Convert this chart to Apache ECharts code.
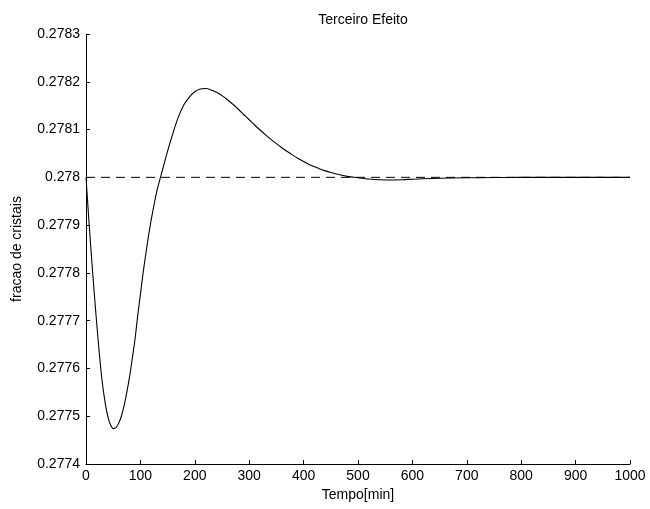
<!DOCTYPE html>
<html>
<head>
<meta charset="utf-8">
<script src="https://cdn.jsdelivr.net/npm/echarts@6/dist/echarts.min.js"></script>
<style>html,body{margin:0;padding:0;background:#fff}#c{width:650px;height:509px}</style>
</head>
<body>
<div id="c"></div>
<script>
var titleText = 'Terceiro Efeito';
var xName = 'Tempo[min]';
var yName = 'fracao de cristais';
var refValue = 0.278;
var timeMin = [0,5,10,15,20,25,30,35,40,45,50,55,60,65,70,75,80,85,90,95,100,105,110,115,120,125,130,135,140,150,160,170,180,190,200,210,220,230,240,250,260,270,280,290,300,310,320,330,340,350,360,370,380,390,400,410,420,430,440,450,460,470,480,490,500,520,540,560,580,600,620,650,700,750,800,900,1000];
var deviationE6 = [0,-85,-165,-240,-310,-375,-430,-470,-500,-518,-526,-524,-515,-500,-478,-450,-418,-380,-340,-290,-245,-200,-160,-122,-88,-58,-30,-8,13,55,93,127,152,168,179,185,186,183,178,171,162.5,153,142.5,131.5,120.5,109.5,99,89,79.5,70.5,62,54,46.5,39.5,33,27,22,17.5,13.5,10,7,4.5,2,0.5,-1,-3.5,-5,-5.5,-5,-4,-3,-2,-1,-0.5,0,0,0];
var xTicks = [0,100,200,300,400,500,600,700,800,900,1000];
var yTicks = [0.2774,0.2775,0.2776,0.2777,0.2778,0.2779,0.278,0.2781,0.2782,0.2783];

var curve = timeMin.map(function(t,i){ return [t, refValue + deviationE6[i]*1e-6]; });
var refLine = [[timeMin[0], refValue],[timeMin[timeMin.length-1], refValue]];

var font = 'Liberation Sans, Arial, Helvetica, sans-serif';
var chart = echarts.init(document.getElementById('c'), null, {renderer:'canvas'});
chart.setOption({
  animation:false,
  backgroundColor:'#fff',
  title:{text:titleText,left:358,top:8,textAlign:'center',textStyle:{fontFamily:font,fontSize:14,fontWeight:'normal',color:'#000'}},
  grid:{left:86,right:20,top:34,bottom:45,containLabel:false},
  xAxis:{type:'value',min:xTicks[0],max:xTicks[xTicks.length-1],interval:100,
    name:xName,nameLocation:'middle',nameGap:22,nameTextStyle:{fontFamily:font,fontSize:14,color:'#000'},
    axisLine:{lineStyle:{color:'#000',width:1}},
    axisTick:{inside:true,length:4,lineStyle:{color:'#000'}},
    axisLabel:{fontFamily:font,fontSize:14,color:'#000',margin:5,formatter:function(v){return String(Math.round(v));}},
    splitLine:{show:false}},
  yAxis:{type:'value',min:yTicks[0],max:yTicks[yTicks.length-1],interval:0.0001,
    name:yName,nameLocation:'middle',nameGap:62,nameRotate:90,nameTextStyle:{fontFamily:font,fontSize:14,color:'#000'},
    axisLine:{show:true,lineStyle:{color:'#000',width:1}},
    axisTick:{show:true,inside:true,length:4,lineStyle:{color:'#000'}},
    axisLabel:{fontFamily:font,fontSize:14,color:'#000',margin:6,formatter:function(v){return (+v.toFixed(4)).toString();}},
    splitLine:{show:false}},
  series:[
    {type:'line',data:refLine,showSymbol:false,lineStyle:{color:'#000',width:1,type:[9,6]},silent:true},
    {type:'line',data:curve,smooth:0.3,showSymbol:false,lineStyle:{color:'#000',width:1.1},silent:true}
  ]
});
</script>
</body>
</html>
